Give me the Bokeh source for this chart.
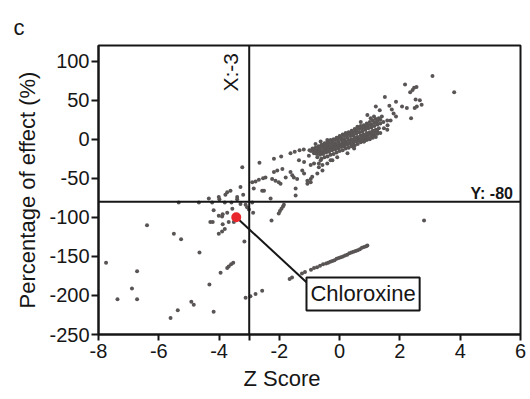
from bokeh.plotting import figure
from bokeh.models import Range1d, FixedTicker, Span, Label, ColumnDataSource, Title
from bokeh.embed import file_html
from bokeh.resources import INLINE
import math

FONT = "Liberation Sans"
INK = "#161616"
DOT = "#5a5555"

# Axis ticks
x_ticks = [-8, -6, -4, -2, 0, 2, 4, 6]
y_ticks = [100, 50, 0, -50, -100, -150, -200, -250]

# Thresholds
z_cut = -3
effect_cut = -80

# Dense central band of compounds (Z score, % effect)
band_z = [-1.0, -0.9, -0.8, -0.7, -0.6, -0.5, -0.4, -0.3, -0.2, -0.1, 0.0, 0.1, 0.2, 0.3, 0.4, 0.5, 0.6, 0.7, 0.8, 0.9, 1.0, 1.1, 1.2, 1.3, 1.4,
          -0.95, -0.85, -0.75, -0.65, -0.55, -0.45, -0.35, -0.25, -0.15, -0.05, 0.05, 0.15, 0.25, 0.35, 0.45, 0.55, 0.65, 0.75, 0.85, 0.95, 1.05, 1.15, 1.25, 1.35,
          -0.85, -0.75, -0.65, -0.55, -0.45, -0.35, -0.25, -0.15, -0.05, 0.05, 0.15, 0.25, 0.35, 0.45, 0.55, 0.65, 0.75, 0.85, 0.95, 1.05, 1.15, 1.25, 1.35, 1.45,
          -0.8, -0.7, -0.6, -0.5, -0.4, -0.3, -0.2, -0.1, 0.0, 0.1, 0.2, 0.3, 0.4, 0.5, 0.6, 0.7, 0.8, 0.9, 1.0, 1.1, 1.2, 1.3,
          -0.75, -0.65, -0.55, -0.45, -0.35, -0.25, -0.15, -0.05, 0.05, 0.15, 0.25, 0.35, 0.45, 0.55, 0.65, 0.75, 0.85, 0.95, 1.05, 1.15, 1.25,
          -0.65, -0.55, -0.45, -0.35, -0.25, -0.15, -0.05, 0.05, 0.15, 0.25, 0.35, 0.45, 0.55, 0.65, 0.75, 0.85, 0.95, 1.05, 1.15, 1.25, 1.35,
          -0.6, -0.5, -0.4, -0.3, -0.2, -0.1, 0.0, 0.1, 0.2, 0.3, 0.4, 0.5, 0.6, 0.7, 0.8, 0.9, 1.0, 1.1, 1.2]
band_pct = [-14, -12, -11, -9, -7, -5, -3, -1, 0, 2, 4, 6, 8, 9, 11, 13, 15, 17, 18, 20, 22, 24, 26, 27, 29,
            -15, -13, -12, -10, -8, -6, -5, -3, -1, 1, 2, 4, 6, 7, 9, 11, 13, 14, 16, 18, 19, 21, 23, 25,
            -16, -14, -13, -11, -9, -8, -6, -5, -3, -1, 0, 2, 4, 5, 7, 9, 10, 12, 14, 15, 17, 19, 20, 22,
            -18, -16, -15, -13, -12, -10, -9, -7, -6, -4, -3, -1, 0, 2, 3, 5, 6, 8, 9, 11, 12, 14,
            -19, -18, -16, -15, -13, -12, -10, -9, -7, -6, -5, -3, -2, 0, 1, 3, 4, 6, 7, 9, 10,
            -20, -19, -17, -16, -14, -13, -12, -10, -9, -7, -6, -5, -3, -2, 0, 1, 2, 4, 5, 7, 8,
            -25, -23, -22, -20, -19, -17, -15, -14, -12, -11, -9, -8, -6, -4, -3, -1, 0, 2, 3]

# Scattered compounds above the band
upper_z = [3.08, 3.80, 2.17, 2.47, 2.55, 2.42, 2.34, 1.50, 2.52, 2.66, 1.87, 2.72, 2.49, 2.56, 2.07, 2.23,
           1.65, 1.73, 1.20, 1.33, 2.37, 1.87, 1.79, 1.69, 1.47, 1.59, 0.92, 1.14, 0.59, 0.70, 1.03, 1.58,
           1.58, 1.25, 0.97, 0.81, 0.48, 0.26, -0.08, -0.80, -0.63, -0.41, -0.24]
upper_pct = [81, 60, 70, 66, 67, 63, 60, 54, 51, 50, 48, 44, 40, 42, 42, 40,
             43, 38, 42, 37, 27, 29, 33, 24, 14, 18, 31, 29, 16, 22, 27, 24,
             12, 9, 1, -3, -12, -18, -23, -6, -3, -1, -27]

# Compounds with moderate negative effect
mid_z = [-2.66, -2.18, -1.94, -1.63, -1.49, -1.33, -1.19,
         -2.90, -2.79, -2.68, -2.54, -2.46, -2.85, -2.51, -2.29, -1.46, -1.46,
         -2.18, -2.07, -1.90, -2.24, -2.13, -2.02, -1.96,
         -1.63, -1.57, -1.52, -1.41, -1.24, -1.18, -1.07, -0.96,
         -1.35, -1.18, -1.02, -0.85, -0.74, -0.63,
         -0.96, -0.85, -0.69, -0.57, -0.74, -0.57,
         -0.91, -1.07, -0.41, -0.30, -1.79, -0.96, -0.69,
         -3.23, -3.29, -3.73, -3.62, -3.79, -3.20, -3.40, -4.34, -4.01, -2.57]
mid_pct = [-30, -25, -22, -18, -16, -14, -13,
           -55, -54, -52, -50, -49, -63, -66, -76, -72, -63,
           -42, -40, -38, -51, -53, -55, -57,
           -42, -46, -49, -51, -40, -44, -53, -51,
           -27, -29, -21, -18, -23, -27,
           -33, -31, -36, -33, -44, -40,
           -48, -57, -31, -27, -49, -55, -31,
           -36, -61, -68, -66, -71, -71, -74, -76, -74, -66]

# Compounds around and below the -80 % cut
low_z = [-5.34, -4.67, -4.23, -3.81, -3.59, -3.99, -3.40, -3.29, -3.12, -2.90,
         -3.07, -3.01, -2.87, -4.18, -3.90, -3.73, -3.56, -4.01, -3.88,
         -4.29, -4.21, -3.88, -3.68, -3.51, -3.81, -3.90, -4.01,
         -6.39, -5.50, -5.26, -4.65, -3.16, -2.26,
         -2.02, -1.98, -1.93, -1.88, -1.85,
         -3.73, -3.68, -3.60, -3.53,
         -7.75, -6.72, -6.89, -7.37, -6.72, -4.92, -4.84, -5.37, -5.61, -4.18, -4.32, -3.95,
         -3.12, -2.96, -2.79, -2.57, 2.80]
low_pct = [-81, -81, -81, -81, -81, -77, -77, -83, -84, -81,
           -87, -90, -94, -91, -99, -94, -89, -98, -96,
           -106, -106, -109, -106, -106, -115, -118, -121,
           -110, -121, -128, -145, -131, -104,
           -95, -92, -89, -86, -84,
           -165, -163, -160, -158,
           -158, -169, -191, -205, -205, -208, -212, -219, -229, -221, -186, -171,
           -203, -201, -198, -194, -104]

# Low series running from about -180 % up to -136 %
streak_z = [-1.66, -1.58, -1.25, -1.15, -0.95, -0.85, -0.75, -0.65, -0.55,
            -0.45, -0.38, -0.31, -0.24, -0.17, -0.10, -0.03, 0.04, 0.11, 0.18, 0.25,
            0.32, 0.39, 0.46, 0.53, 0.60, 0.67, 0.74, 0.81, 0.88, 0.92]
streak_pct = [-179, -177, -172, -170, -167, -165, -164, -162, -160,
              -159, -158, -157, -156, -155, -153, -152, -151, -150, -149, -148,
              -146, -145, -144, -143, -142, -141, -139, -138, -137, -136]

# Highlighted hit
hit_name = "Chloroxine"
hit_z = [-3.43]
hit_pct = [-100]

# Callout: leader end and box top-left corner
leader_z, leader_pct = -1.10, -183
box_z, box_pct = -1.10, -177

p = figure(width=530, height=399, x_range=Range1d(-8, 6), y_range=Range1d(-250, 120),
           output_backend="svg", toolbar_location=None,
           min_border_left=98, min_border_right=10, min_border_top=45, min_border_bottom=65)
p.background_fill_color = "white"
p.border_fill_color = "white"
p.grid.visible = False
p.outline_line_color = INK
p.outline_line_width = 2

# Panel letter
p.title.text = "c"
p.title.text_font = FONT
p.title.text_font_size = "22px"
p.title.text_font_style = "normal"
p.title.text_color = INK
p.title.align = "left"
p.title.offset = -85
p.title.standoff = 12

for ax, ticks in ((p.xaxis, x_ticks), (p.yaxis, y_ticks)):
    ax.major_label_overrides = {t: str(t) for t in ticks}
    ax.axis_line_color = INK
    ax.axis_line_width = 2
    ax.major_tick_line_color = INK
    ax.major_tick_line_width = 2
    ax.major_tick_in = 0
    ax.minor_tick_line_color = None
    ax.major_label_text_font = FONT
    ax.major_label_text_font_size = "20px"
    ax.major_label_text_color = INK
    ax.axis_label_text_font = FONT
    ax.axis_label_text_font_size = "22px"
    ax.axis_label_text_font_style = "normal"
    ax.axis_label_text_color = INK
p.yaxis.ticker = FixedTicker(ticks=y_ticks)
# the Z cut also gets an unlabelled tick below the axis
p.xaxis.ticker = FixedTicker(ticks=x_ticks + [z_cut])
p.xaxis.major_label_overrides = {**{t: str(t) for t in x_ticks}, z_cut: ""}
p.xaxis.major_tick_out = 6
p.xaxis.major_label_standoff = 3
p.yaxis.major_tick_out = 7
p.yaxis.major_label_standoff = 2
p.yaxis.axis_label = "Percentage of effect (%)"
p.yaxis.axis_label_standoff = 6

# X title sits a little left of the frame centre
p.add_layout(Title(text="Z Score", text_font=FONT, text_font_size="22px", text_font_style="normal",
                   text_color=INK, align="left", offset=145, standoff=6), "below")

src = ColumnDataSource(dict(z=band_z + upper_z + mid_z + low_z + streak_z,
                            pct=band_pct + upper_pct + mid_pct + low_pct + streak_pct))
p.scatter("z", "pct", source=src, size=4, fill_color=DOT, line_color=None)

p.add_layout(Span(location=z_cut, dimension="height", line_color=INK, line_width=2))
p.add_layout(Span(location=effect_cut, dimension="width", line_color=INK, line_width=2))

# Leader from the hit to its callout box
p.line([hit_z[0], leader_z], [hit_pct[0], leader_pct], line_color=INK, line_width=2)
p.scatter(hit_z, hit_pct, size=10, fill_color="#e8262b", line_color=None)

p.add_layout(Label(x=box_z, y=box_pct, text=hit_name, text_font=FONT, text_font_size="22px",
                   text_color=INK, text_align="left", text_baseline="top",
                   border_line_color=INK, border_line_width=2, background_fill_color="white",
                   padding=4))

p.add_layout(Label(x=-3.62, y=61, text="X:-3", angle=math.pi / 2,
                   text_font=FONT, text_font_size="21px", text_color=INK,
                   text_align="left", text_baseline="alphabetic"))
p.add_layout(Label(x=5.75, y=-70, text="Y: -80", text_font=FONT, text_font_size="16px",
                   text_font_style="bold", text_color=INK, text_align="right",
                   text_baseline="alphabetic"))

open("out.html", "w").write(file_html(p, INLINE))
